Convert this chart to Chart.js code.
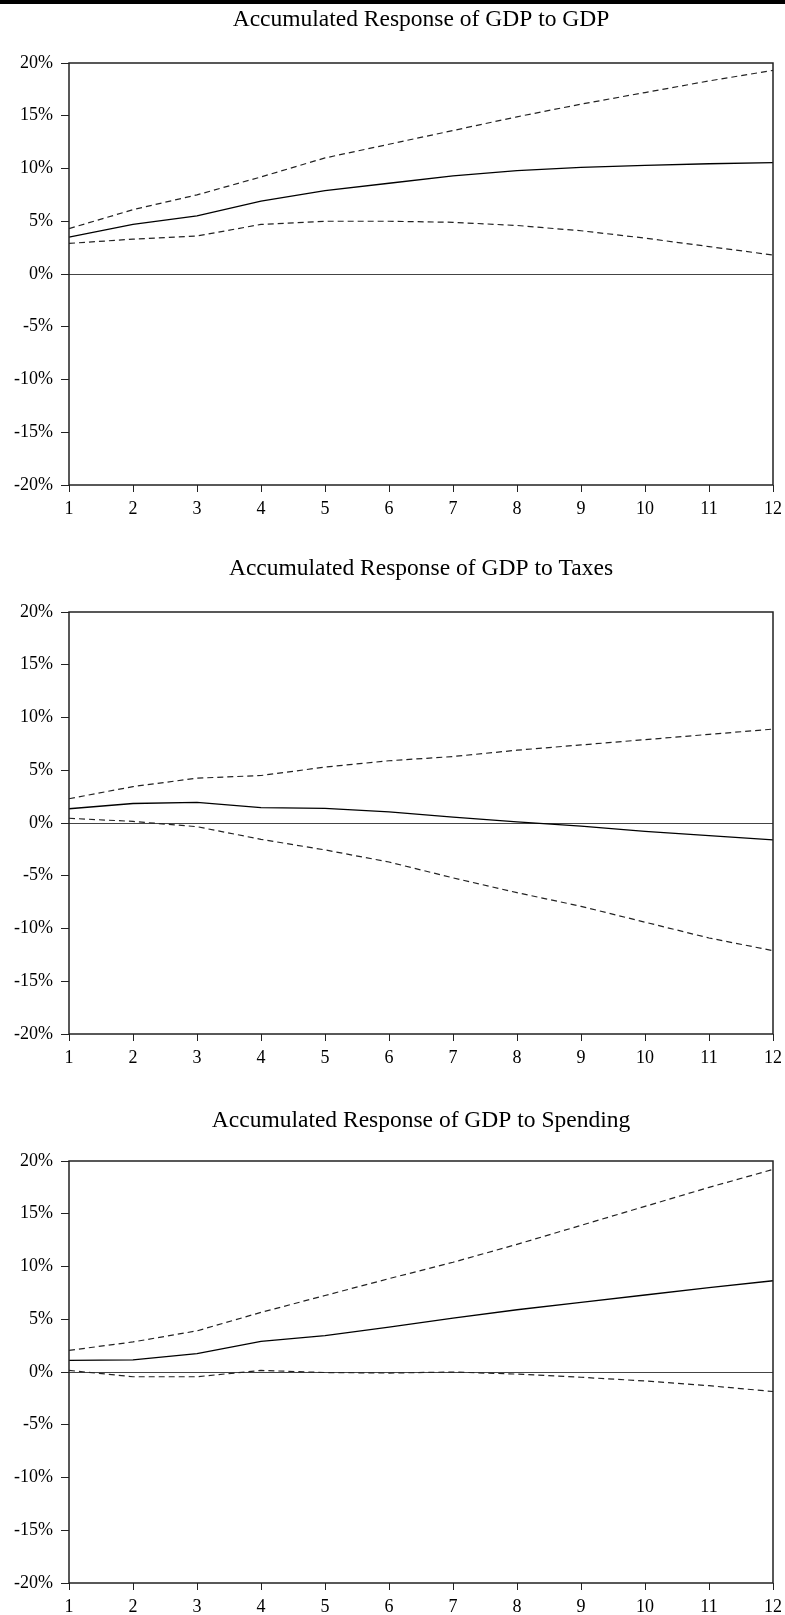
<!DOCTYPE html>
<html>
<head>
<meta charset="utf-8">
<script src="https://cdn.jsdelivr.net/npm/chart.js@4"></script>
<style>
  body { margin: 0; background: #fff; width: 785px; height: 1615px; overflow: hidden; position: relative; }
  .bar { position: absolute; left: 0; top: 0; width: 785px; height: 4px; background: #000; z-index: 2; }
  canvas { position: absolute; left: 0; }
</style>
</head>
<body>
<div class="bar"></div>
<canvas id="c1" width="785" height="517" style="top:0px"></canvas>
<canvas id="c2" width="785" height="517" style="top:549px"></canvas>
<canvas id="c3" width="785" height="517" style="top:1098px"></canvas>
<script>
const periods = ['1', '2', '3', '4', '5', '6', '7', '8', '9', '10', '11', '12']
const yTicks = [-20, -15, -10, -5, 0, 5, 10, 15, 20]

// accumulated responses, in percent
const gdpToGdp      = [3.5, 4.7, 5.5, 6.9, 7.9, 8.6, 9.3, 9.8, 10.1, 10.3, 10.45, 10.55]
const gdpToGdpUp    = [4.3, 6.1, 7.5, 9.2, 11.0, 12.3, 13.6, 14.9, 16.1, 17.2, 18.3, 19.3]
const gdpToGdpLow   = [2.9, 3.3, 3.6, 4.7, 5.0, 5.0, 4.9, 4.6, 4.1, 3.4, 2.6, 1.8]

const gdpToTaxes    = [1.35, 1.85, 1.95, 1.45, 1.38, 1.05, 0.55, 0.1, -0.3, -0.8, -1.2, -1.6]
const gdpToTaxesUp  = [2.3, 3.45, 4.25, 4.5, 5.3, 5.9, 6.3, 6.9, 7.4, 7.9, 8.4, 8.9]
const gdpToTaxesLow = [0.45, 0.15, -0.35, -1.55, -2.55, -3.7, -5.2, -6.6, -7.9, -9.4, -10.9, -12.1]

const gdpToSpend    = [1.1, 1.15, 1.75, 2.9, 3.45, 4.25, 5.1, 5.9, 6.6, 7.3, 8.0, 8.65]
const gdpToSpendUp  = [2.05, 2.85, 3.9, 5.65, 7.25, 8.85, 10.4, 12.1, 13.9, 15.7, 17.5, 19.2]
const gdpToSpendLow = [0.15, -0.45, -0.45, 0.15, -0.05, -0.1, 0.0, -0.2, -0.5, -0.85, -1.3, -1.85]

const serif = "'Liberation Serif', 'Times New Roman', serif"

// box round the plot area
const frame = {
    id: 'frame',
    afterDraw(chart) {
        const a = chart.chartArea
        const ctx = chart.ctx
        ctx.save()
        ctx.strokeStyle = '#222'
        ctx.lineWidth = 1.5
        ctx.strokeRect(a.left, a.top, a.right - a.left, a.bottom - a.top)
        ctx.restore()
    }
}

function responseChart(id, title, mid, up, low, titleTop) {
    const ctx = document.getElementById(id).getContext('2d')
    const band = {
        borderColor: '#222',
        borderWidth: 1.2,
        borderDash: [6, 4],
        pointRadius: 0,
        fill: false
    }
    return new Chart(ctx, {
        type: 'line',
        data: {
            labels: periods,
            datasets: [
                Object.assign({ data: up }, band),
                Object.assign({ data: low }, band),
                { data: mid, borderColor: '#000', borderWidth: 1.3, pointRadius: 0, fill: false }
            ]
        },
        options: {
            responsive: false,
            animation: false,
            layout: { padding: { left: 0, right: 12, top: 0, bottom: 0 } },
            plugins: {
                legend: { display: false },
                tooltip: { enabled: false },
                title: {
                    display: true,
                    text: title,
                    fullSize: false,
                    color: '#000',
                    font: { family: serif, size: 23.5, weight: 'normal' },
                    padding: { top: titleTop, bottom: 34.8 - titleTop }
                }
            },
            scales: {
                x: {
                    type: 'category',
                    offset: false,
                    afterFit(scale) {
                        scale.height = 32
                        scale.paddingRight = 0
                    },
                    grid: { color: 'transparent', tickColor: '#222', tickLength: 7, drawOnChartArea: false },
                    border: { display: false },
                    ticks: { color: '#000', padding: 6, maxRotation: 0, autoSkip: false, font: { family: serif, size: 18 } }
                },
                y: {
                    min: -20,
                    max: 20,
                    afterFit(scale) { scale.width = 69 },
                    afterBuildTicks(scale) { scale.ticks = yTicks.map(v => ({ value: v })) },
                    grid: {
                        color: c => (c.tick && c.tick.value === 0) ? '#444' : 'transparent',
                        lineWidth: 1,
                        tickColor: '#222',
                        tickLength: 8
                    },
                    border: { display: false },
                    ticks: {
                        color: '#000',
                        padding: 8,
                        font: { family: serif, size: 18 },
                        callback: v => v + '%'
                    }
                }
            }
        },
        plugins: [frame]
    })
}

responseChart('c1', 'Accumulated Response of GDP to GDP', gdpToGdp, gdpToGdpUp, gdpToGdpLow, 6)
responseChart('c2', 'Accumulated Response of GDP to Taxes', gdpToTaxes, gdpToTaxesUp, gdpToTaxesLow, 6)
responseChart('c3', 'Accumulated Response of GDP to Spending', gdpToSpend, gdpToSpendUp, gdpToSpendLow, 9)
</script>
</body>
</html>
